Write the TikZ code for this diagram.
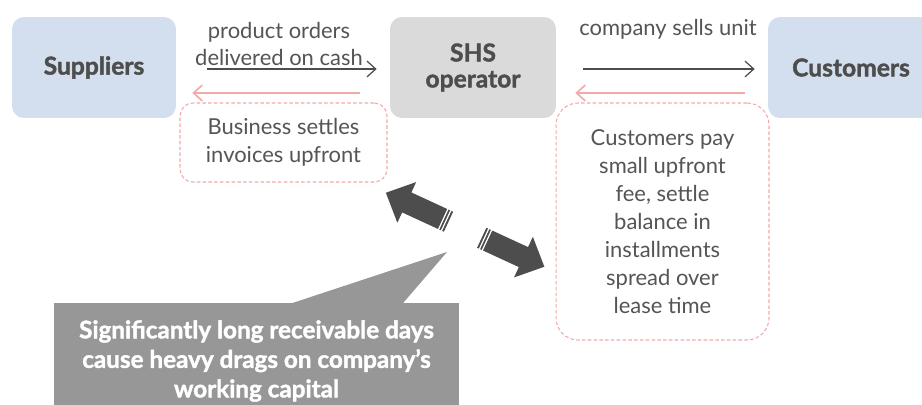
\documentclass[tikz,border=0pt]{standalone}
\usepackage{fontspec}
\setmainfont{Lato}[BoldFeatures={FakeBold=1.6}]
\usetikzlibrary{arrows.meta,positioning}
\usepackage{xcolor}
\definecolor{ShsBlue}{HTML}{D3DFEE}
\definecolor{ShsGrey}{HTML}{DADADA}
\definecolor{ShsText}{HTML}{555555}
\definecolor{ShsPink}{HTML}{F4A9A9}
\definecolor{ShsDark}{HTML}{4D4D4D}
\definecolor{ShsCallout}{HTML}{979797}

\begin{document}
\begin{tikzpicture}[%
    x=0.02cm, y=-0.02cm,%
    every node/.style={font=\fontsize{12.5}{15.9}\selectfont, text=ShsText},%
    box/.style={rounded corners=0.24cm, inner sep=0pt, minimum height=2.02cm,%
      align=center, font=\fontsize{14}{14.8}\selectfont\bfseries, text=ShsDark},%
    note/.style={draw=ShsPink, line width=0.6pt, dash pattern=on 2pt off 1.3pt,%
      rounded corners=0.26cm, inner sep=0pt, align=center},%
    lbl/.style={align=center, inner sep=0pt},%
    flow/.style={draw=ShsDark, line width=0.7pt, -{Straight Barb[length=5pt,width=9pt]}},%
    back flow/.style={draw=ShsPink, line width=0.9pt, -{Straight Barb[length=5pt,width=9pt]}},%
    callout/.style={fill=ShsCallout, inner sep=0pt, align=center, text=white,%
      font=\fontsize{13.8}{16.8}\selectfont\bfseries}%
  ]
  \tikzset{%
    big arrow/.pic={%
      \fill[ShsDark] (0,-11) -- (46,-11) -- (46,-22.4) -- (69,0) -- (46,22.4)%
      -- (46,11) -- (0,11) -- cycle;%
      \draw[white, line width=0.7pt] (2.6,-12) -- (2.6,12);%
      \draw[white, line width=0.7pt] (5.8,-12) -- (5.8,12);%
    }%
  }%
  \useasboundingbox[fill=white] (0,0) rectangle (922,405);%

  %
  % Acteurs
  %
  \node[box, fill=ShsBlue, minimum width=3.28cm] (suppliers) at (94,67.5) {Suppliers};%
  \node[box, fill=ShsGrey, minimum width=3.32cm] (shs) at (473,67.5) {SHS\\operator};%
  \node[box, fill=ShsBlue, minimum width=3.32cm] (customers) at (851,67.5) {Customers};%

  %
  % Flux
  %
  \node[lbl] (orders lbl) at (279,44) {product orders\\delivered on cash};%
  \node[lbl] (sells lbl) at (668,29) {company sells unit};%
  \draw[flow, shorten <=0.62cm, shorten >=0.26cm] ([yshift=-0.03cm]suppliers.east) -- ([yshift=-0.03cm]shs.west);%
  \draw[flow, shorten <=0.54cm, shorten >=0.26cm] ([yshift=-0.03cm]shs.east) -- ([yshift=-0.03cm]customers.west);%
  \draw[back flow, shorten <=0.6cm, shorten >=0.32cm] ([yshift=-0.51cm]shs.west) -- ([yshift=-0.51cm]suppliers.east);%
  \draw[back flow, shorten <=0.46cm, shorten >=0.38cm] ([yshift=-0.51cm]customers.west) -- ([yshift=-0.51cm]shs.east);%

  % Paiements
  \node[note, minimum width=4.14cm, minimum height=1.58cm] (settle) at (283.5,142.5)%
  {Business settles\\invoices upfront};%
  \node[note, minimum width=4.26cm, minimum height=4.74cm, rounded corners=0.44cm] (lease)%
  at (662.5,221.5) {Customers pay\\small upfront\\fee, settle\\balance in\\installments\\spread over\\lease time};%

  %
  % Ecart de tresorerie
  %
  \pic[rotate=155.2] at (448.5,221.7) {big arrow};%
  \pic[rotate=-24.8] at (481.7,237.8) {big arrow};%
  \coordinate (drag tip) at (447,252);%
  \node[callout, minimum width=8.1cm, minimum height=2.32cm] (drag) at (256.5,361)%
  {Significantly long receivable days\\cause heavy drags on company’s\\working capital};%
  \fill[ShsCallout] ([xshift=0.71cm,yshift=-0.01cm]drag.north) -- (drag tip)%
  -- ([xshift=2.93cm,yshift=-0.01cm]drag.north) -- cycle;%
\end{tikzpicture}
\end{document}
